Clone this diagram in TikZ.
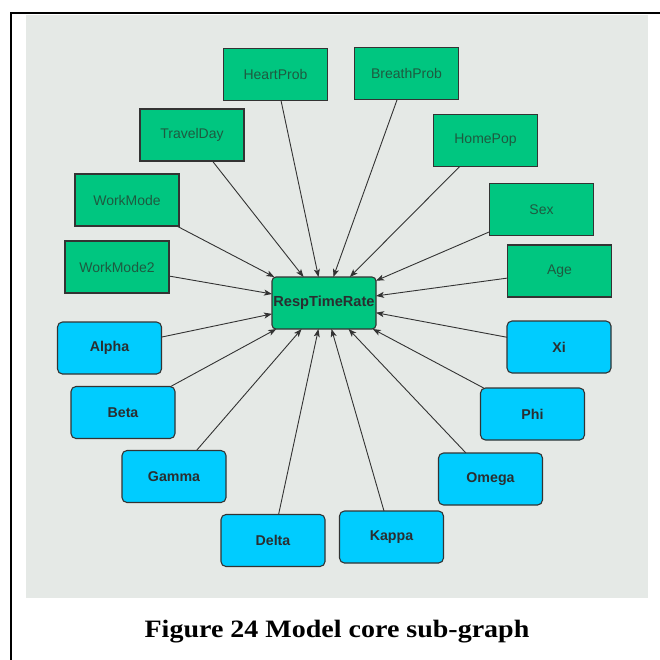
\documentclass[tikz,border=0pt]{standalone}
\usepackage{fontspec}
\setmainfont{Liberation Serif}
\setsansfont{Liberation Sans}
\newfontfamily\capfont[FakeStretch=1.12]{Liberation Serif}
\usetikzlibrary{arrows.meta}

\definecolor{panelgray}{HTML}{E5E9E6}
\definecolor{factgreen}{HTML}{00C680}
\definecolor{parblue}{HTML}{00CCFF}
\definecolor{edgegray}{HTML}{333333}
\definecolor{greentext}{HTML}{1E5A40}
\definecolor{bluetext}{HTML}{2A2E30}

\tikzset{
  factor/.style={draw=edgegray, line width=1.1pt, fill=factgreen,
    minimum width=104pt, minimum height=52pt, inner sep=0pt, outer sep=0pt,
    font=\sffamily\fontsize{14}{16}\selectfont, text=greentext},
  param/.style={draw=edgegray, line width=1.1pt, fill=parblue, rounded corners=5pt,
    minimum width=104pt, minimum height=52pt, inner sep=0pt, outer sep=0pt,
    font=\sffamily\bfseries\fontsize{14.2}{16}\selectfont, text=bluetext},
  core/.style={draw=edgegray, line width=1.1pt, fill=factgreen, rounded corners=4pt,
    minimum width=104pt, minimum height=52pt, inner sep=0pt, outer sep=0pt,
    font=\sffamily\bfseries\fontsize{14.6}{17}\selectfont, text=bluetext},
  link/.style={draw=edgegray, line width=0.9pt,
    -{Stealth[length=8pt,width=6pt,inset=2pt]}}
}

\begin{document}
\begin{tikzpicture}[x=1pt, y=-1pt]
  \useasboundingbox (0,0) rectangle (660,659);
  % background panel and frame
  \fill[panelgray] (26,15) rectangle (648,598);
  \draw[line width=2.5pt, line cap=rect] (11,659) -- (11,13) -- (660,13);

  % central node
  \node[core] (rtr) at (324,303) {RespTimeRate};

  % factor nodes
  \node[factor] (heart)  at (275.5,74.5) {HeartProb};
  \node[factor] (breath) at (406.5,73.5) {BreathProb};
  \node[factor] (travel) at (192,135)    {TravelDay};
  \node[factor] (home)   at (485.5,140.5){HomePop};
  \node[factor] (work)   at (127,200)    {WorkMode};
  \node[factor] (sex)    at (541.5,209.5){Sex};
  \node[factor] (work2)  at (117,267)    {WorkMode2};
  \node[factor] (age)    at (559.5,271)  {Age};

  % parameter nodes
  \node[param] (alpha) at (109.5,348) {Alpha};
  \node[param] (xi)    at (559,347)   {Xi};
  \node[param] (beta)  at (123,412.5) {Beta};
  \node[param] (phi)   at (532.5,414) {Phi};
  \node[param] (gamma) at (174,476.5) {Gamma};
  \node[param] (omega) at (490.5,479) {Omega};
  \node[param] (delta) at (273,540.5) {Delta};
  \node[param] (kappa) at (391.5,537) {Kappa};

  % edges into the core node
  \foreach \src in {heart,breath,travel,home,work,sex,work2,age,
                    alpha,xi,beta,phi,gamma,omega,delta,kappa}
    \draw[link] (\src) -- (rtr);

  % caption
  \node[font=\capfont\bfseries\fontsize{25}{29}\selectfont] (cap) at (337,632)
    {Figure 24 Model core sub-graph};
\end{tikzpicture}
\end{document}
